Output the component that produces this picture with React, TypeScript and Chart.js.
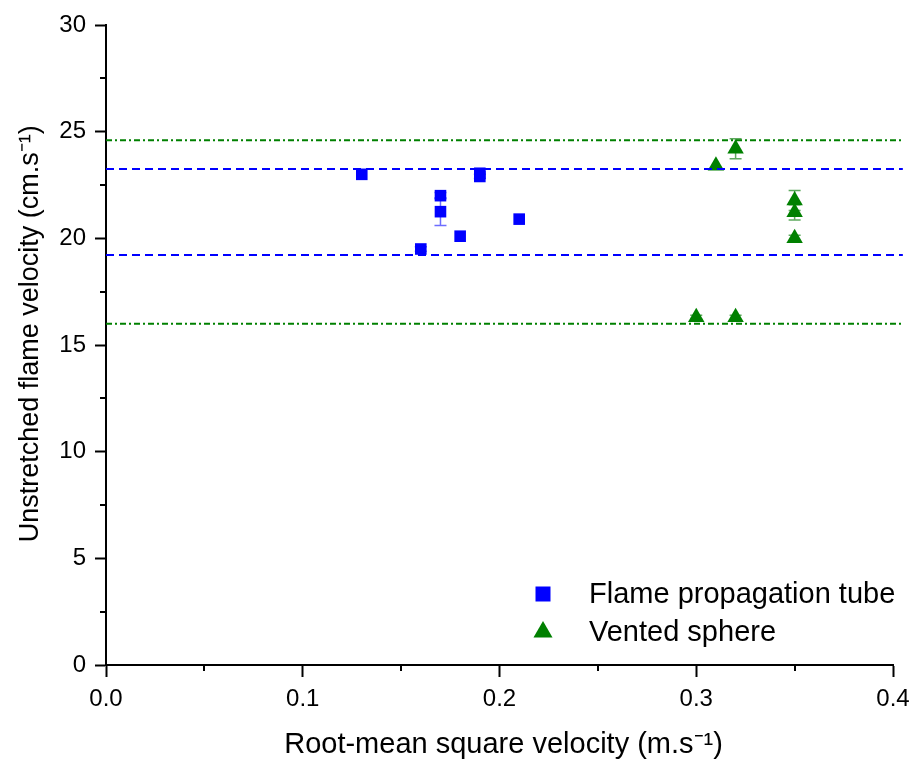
import React, { useEffect, useRef } from "react";
import { Chart, registerables } from "chart.js";

Chart.register(...registerables);

// ---- data ----
const tubeX = [0.13, 0.16, 0.17, 0.17, 0.18, 0.19, 0.19, 0.21];
const tubeY = [23.0, 19.5, 22.0, 21.25, 20.1, 23.05, 22.9, 20.9];
const tubeErr = [0, 0.1, 0.15, 0.65, 0, 0, 0.1, 0];

const sphereX = [0.3, 0.31, 0.32, 0.32, 0.35, 0.35, 0.35];
const sphereY = [16.3, 23.4, 24.2, 16.3, 21.77, 21.22, 20.0];
const sphereErr = [0.1, 0, 0.47, 0.1, 0.47, 0.36, 0.15];

const tubeBounds = [19.22, 23.25];
const sphereBounds = [16.0, 24.6];
const lineXRange = [0, 0.405];

const xTicks = [0, 0.1, 0.2, 0.3, 0.4];
const yTicks = [0, 5, 10, 15, 20, 25, 30];

const xTitle = " Root-mean square velocity (m.s\u207B\u00B9)";
const yTitle = "   Unstretched flame velocity (cm.s\u207B\u00B9)";

const BLUE = "#0000FF";
const GREEN = "#008000";
const FONT = "'Liberation Sans', Arial, sans-serif";

const isMajorX = (v: number) => xTicks.some((t) => Math.abs(t - v) < 1e-6);
const isMajorY = (v: number) => yTicks.some((t) => Math.abs(t - v) < 1e-6);

const errorBarPlugin = {
  id: "errorBars",
  beforeDatasetsDraw(chart: any) {
    const { ctx, scales } = chart;
    const xs = scales.x;
    const ys = scales.y;
    chart.data.datasets.forEach((ds: any) => {
      if (!ds.errors) return;
      ctx.save();
      ctx.strokeStyle = ds.errorColor;
      ctx.lineWidth = 1.5;
      ds.data.forEach((p: any, i: number) => {
        const e = ds.errors[i];
        if (!e) return;
        const px = xs.getPixelForValue(p.x);
        const top = ys.getPixelForValue(p.y + e);
        const bot = ys.getPixelForValue(p.y - e);
        ctx.beginPath();
        ctx.moveTo(px, top);
        ctx.lineTo(px, bot);
        ctx.moveTo(px - 6, top);
        ctx.lineTo(px + 6, top);
        ctx.moveTo(px - 6, bot);
        ctx.lineTo(px + 6, bot);
        ctx.stroke();
      });
      ctx.restore();
    });
  },
};

const minorTickPlugin = {
  id: "minorTicks",
  afterDraw(chart: any) {
    const { ctx, scales } = chart;
    const xs = scales.x;
    const ys = scales.y;
    ctx.save();
    ctx.strokeStyle = "#000";
    ctx.lineWidth = 2;
    ctx.beginPath();
    xs.ticks.forEach((t: any) => {
      if (isMajorX(t.value)) return;
      const px = Math.round(xs.getPixelForValue(t.value));
      ctx.moveTo(px, ys.bottom);
      ctx.lineTo(px, ys.bottom + 6);
    });
    ys.ticks.forEach((t: any) => {
      if (isMajorY(t.value)) return;
      const py = Math.round(ys.getPixelForValue(t.value));
      ctx.moveTo(xs.left, py);
      ctx.lineTo(xs.left - 6, py);
    });
    ctx.stroke();
    ctx.restore();
  },
};

const legendPlugin = {
  id: "insideLegend",
  afterDraw(chart: any) {
    const { ctx, chartArea } = chart;
    const items = chart.data.datasets.filter((d: any) => d.inLegend);
    const mx = chartArea.right - 350;
    const rows = [chartArea.bottom - 71, chartArea.bottom - 33];
    ctx.save();
    ctx.font = `29px ${FONT}`;
    ctx.textBaseline = "middle";
    ctx.textAlign = "left";
    items.forEach((d: any, i: number) => {
      const y = rows[i];
      ctx.fillStyle = d.backgroundColor;
      ctx.beginPath();
      if (d.pointStyle === "rect") {
        ctx.rect(mx - 7.5, y - 7.5, 15, 15);
      } else {
        const r = 11;
        ctx.moveTo(mx, y - r);
        ctx.lineTo(mx + r * 0.866, y + r / 2);
        ctx.lineTo(mx - r * 0.866, y + r / 2);
        ctx.closePath();
      }
      ctx.fill();
      ctx.fillStyle = "#000";
      ctx.fillText(d.label, mx + 46, y + 1);
    });
    ctx.restore();
  },
};

export default function App() {
  const ref = useRef<HTMLCanvasElement | null>(null);

  useEffect(() => {
    if (!ref.current) return;
    const hLine = (y: number, color: string, dash: number[]) => ({
      type: "line" as const,
      data: lineXRange.map((x) => ({ x, y })),
      borderColor: color,
      borderWidth: 2,
      borderDash: dash,
      pointRadius: 0,
      fill: false,
      clip: false,
      inLegend: false,
    });
    const chart = new Chart(ref.current, {
      type: "scatter",
      data: {
        datasets: [
          ...sphereBounds.map((y) => hLine(y, GREEN, [6, 3, 2, 3])),
          ...tubeBounds.map((y) => hLine(y, BLUE, [8, 5])),
          {
            label: "Flame propagation tube",
            data: tubeX.map((x, i) => ({ x, y: tubeY[i] })),
            pointStyle: "rect",
            pointRadius: 8.2,
            backgroundColor: BLUE,
            borderColor: BLUE,
            borderWidth: 0,
            errors: tubeErr,
            errorColor: "rgba(60,60,255,0.75)",
            inLegend: true,
          } as any,
          {
            label: "Vented sphere",
            data: sphereX.map((x, i) => ({ x, y: sphereY[i] })),
            pointStyle: "triangle",
            pointRadius: 9.5,
            backgroundColor: GREEN,
            borderColor: GREEN,
            borderWidth: 0,
            errors: sphereErr,
            errorColor: "rgba(40,140,40,0.75)",
            inLegend: true,
          } as any,
        ],
      },
      options: {
        responsive: false,
        animation: false,
        devicePixelRatio: 1,
        layout: { padding: { left: 0, top: 25, right: 20, bottom: 0 } },
        plugins: {
          legend: { display: false },
          tooltip: { enabled: false },
        },
        scales: {
          x: {
            type: "linear",
            min: 0,
            max: 0.4,
            afterFit: (s: any) => {
              s.height = 108;
              s.paddingRight = 0;
              s.paddingLeft = 0;
            },
            border: { display: true, color: "#000", width: 2 },
            grid: {
              display: true,
              drawOnChartArea: false,
              drawTicks: true,
              tickLength: 12,
              tickWidth: 2,
              tickColor: (c: any) => (c.tick && isMajorX(c.tick.value) ? "#000" : "rgba(0,0,0,0)"),
            },
            ticks: {
              stepSize: 0.05,
              autoSkip: false,
              maxRotation: 0,
              padding: 8,
              color: "#000",
              font: { family: FONT, size: 24 },
              callback: (v: any) => (isMajorX(Number(v)) ? Number(v).toFixed(1) : ""),
            },
            title: {
              display: true,
              text: xTitle,
              color: "#000",
              font: { family: FONT, size: 29 },
              padding: { top: 0, bottom: 11 },
            },
          },
          y: {
            type: "linear",
            min: 0,
            max: 30,
            afterFit: (s: any) => {
              s.width = 106;
              s.paddingTop = 0;
              s.paddingBottom = 0;
            },
            border: { display: true, color: "#000", width: 2 },
            grid: {
              display: true,
              drawOnChartArea: false,
              drawTicks: true,
              tickLength: 11,
              tickWidth: 2,
              tickColor: (c: any) => (c.tick && isMajorY(c.tick.value) ? "#000" : "rgba(0,0,0,0)"),
            },
            ticks: {
              stepSize: 2.5,
              autoSkip: false,
              padding: 9,
              color: "#000",
              font: { family: FONT, size: 24 },
              callback: (v: any) => (isMajorY(Number(v)) ? String(Math.round(Number(v))) : ""),
            },
            title: {
              display: true,
              text: yTitle,
              color: "#000",
              font: { family: FONT, size: 27 },
              padding: { top: 14, bottom: 0 },
            },
          },
        },
      } as any,
      plugins: [errorBarPlugin, minorTickPlugin, legendPlugin],
    });
    return () => chart.destroy();
  }, []);

  return (
    <div style={{ position: "fixed", left: 0, top: 0, width: 913, height: 773, background: "#fff" }}>
      <canvas ref={ref} width={913} height={773} style={{ display: "block", width: 913, height: 773 }} />
    </div>
  );
}
